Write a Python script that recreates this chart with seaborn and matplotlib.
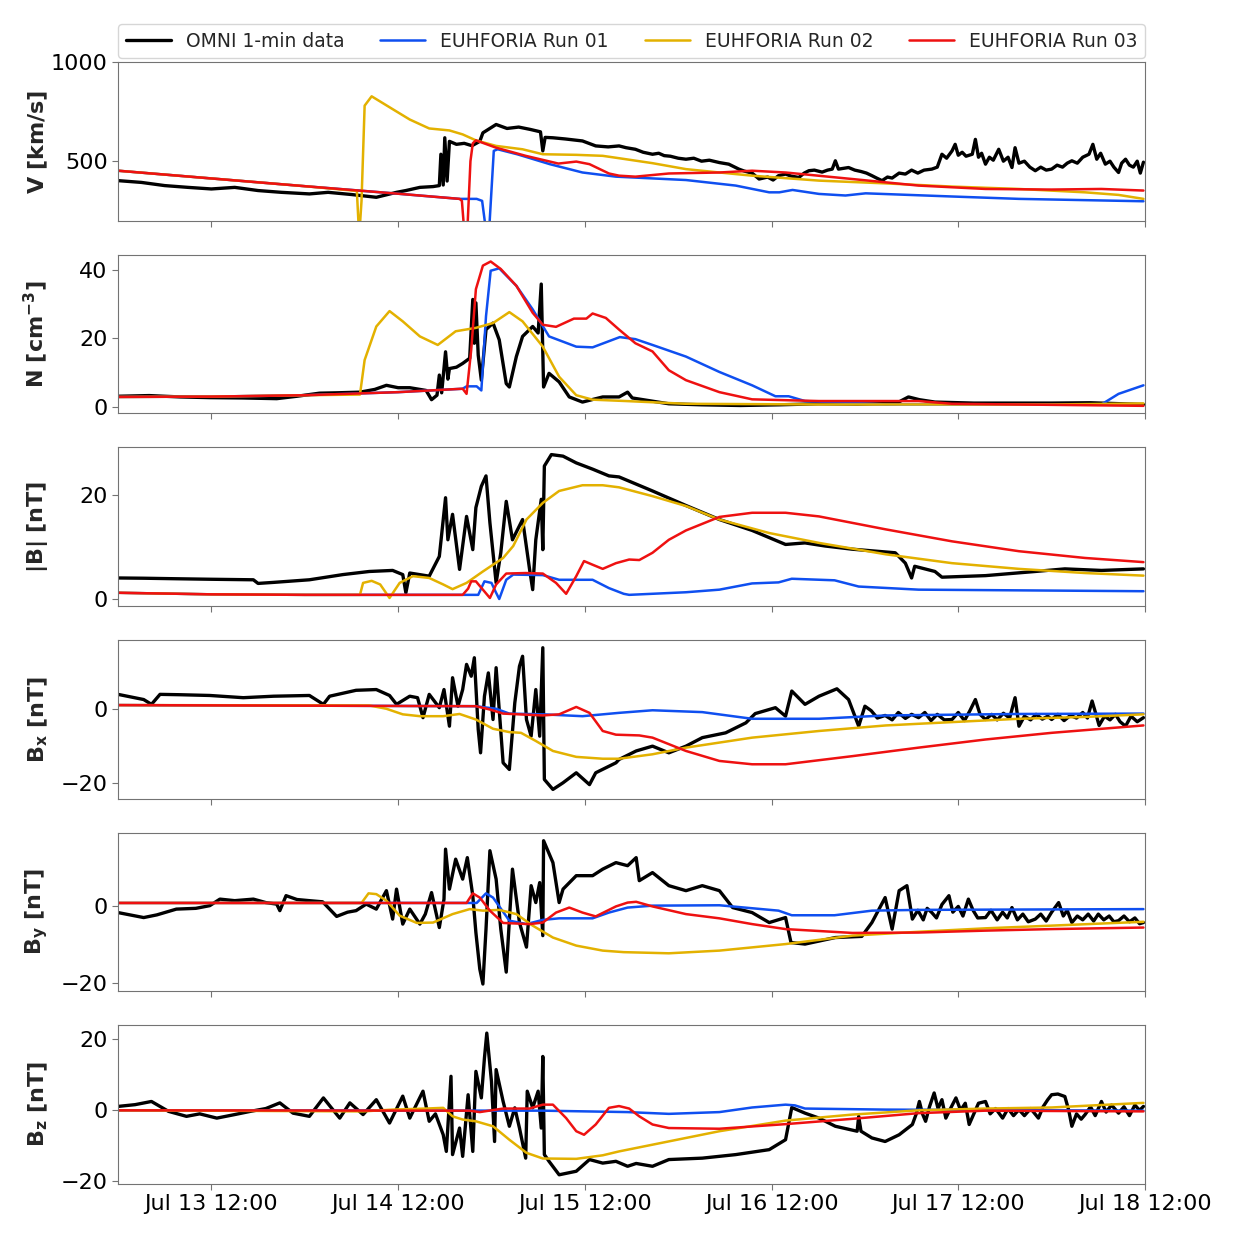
import matplotlib
matplotlib.use('Agg')
import matplotlib.pyplot as plt
import matplotlib.dates as mdates
import seaborn as sns
import pandas as pd

# hours since 2012-07-13 00:00
T0 = pd.Timestamp('2012-07-13 00:00')

# ---- V [km/s] ----
v_omni = [(0, 402), (3, 393), (6, 377), (9, 368), (12, 360), (15, 368), (18, 352), (21, 343),
          (24.6, 335), (27, 343), (30, 332), (33.2, 318), (35.8, 343), (37, 352), (38.8, 368),
          (40.5, 372), (41.3, 377), (41.5, 535), (41.8, 380), (42.0, 618), (42.3, 400), (42.6, 600),
          (43.5, 585), (44.5, 590), (45.5, 578), (46.5, 600), (46.9, 643), (48.6, 685), (50, 665),
          (51.5, 672), (53, 660), (54.3, 648), (54.6, 552), (54.9, 620), (55.9, 618), (57.5, 612),
          (59.7, 602), (61.4, 577), (63, 572), (64.4, 577), (65.3, 568), (66.5, 560), (67.5, 545),
          (68.7, 535), (69.5, 540), (70.2, 528), (71, 525), (72, 515), (73, 510), (74, 515), (75, 500),
          (76, 505), (77.3, 493), (78.5, 485), (79.8, 460), (80.5, 450), (81.5, 440), (82.4, 410),
          (83.5, 420), (84.2, 405), (84.9, 427), (85.8, 435), (86.5, 425), (87.5, 418), (88.2, 440),
          (88.8, 452), (89.5, 455), (90.5, 445), (91.2, 455), (91.8, 460), (92.2, 502), (92.6, 460),
          (93.9, 468), (94.7, 455), (95.5, 448), (96.2, 440), (96.9, 427), (97.5, 415), (98.2, 402),
          (98.9, 420), (99.5, 415), (100.4, 440), (101.2, 435), (102.0, 455), (102.8, 440),
          (103.6, 455), (104.6, 460), (105.3, 470), (105.9, 535), (106.5, 515), (107.2, 552),
          (107.6, 585), (108.0, 530), (108.5, 545), (109.0, 525), (109.8, 535), (110.2, 610),
          (110.6, 520), (111.0, 540), (111.5, 485), (112.0, 520), (112.5, 505), (113.2, 560),
          (113.8, 500), (114.4, 520), (114.9, 468), (115.3, 568), (115.8, 490), (116.5, 500),
          (117.2, 470), (117.9, 452), (118.6, 470), (119.3, 455), (120.0, 460), (120.7, 480),
          (121.4, 470), (122.0, 490), (122.6, 502), (123.3, 490), (124.0, 520), (124.8, 535),
          (125.3, 585), (125.8, 510), (126.3, 540), (126.9, 485), (127.5, 500), (128.0, 470),
          (128.6, 443), (129.0, 490), (129.5, 510), (130.0, 480), (130.5, 470), (131.0, 500),
          (131.4, 440), (131.8, 495)]
v_run01 = [(0, 452), (12, 413), (24, 374), (36, 336), (43.9, 310), (46.1, 310), (46.8, 300),
           (47.3, 150), (47.7, 150), (48.3, 552), (48.8, 560), (51.3, 535), (55.5, 485), (59.7, 443),
           (64.0, 422), (73.0, 405), (79.4, 377), (83.7, 343), (85.0, 343), (86.7, 355), (90.1, 335),
           (93.5, 327), (96.1, 338), (107.2, 322), (115.8, 310), (131.8, 298)]
v_run02 = [(0, 452), (12, 413), (24, 374), (30.7, 350), (31.0, 120), (31.3, 300), (31.7, 780),
           (32.6, 827), (35.4, 760), (37.5, 710), (40.0, 665), (42.6, 655), (44.3, 635), (46.0, 605),
           (48.6, 577), (52.0, 560), (54.6, 535), (58.9, 532), (62.3, 527), (64.4, 515), (68.7, 490),
           (73.0, 460), (77.3, 443), (81.5, 427), (90.1, 402), (98.7, 388), (107.2, 372),
           (115.8, 360), (124.3, 343), (128.6, 330), (131.8, 310)]
v_run03 = [(0, 452), (12, 413), (24, 374), (36, 336), (43.9, 310), (44.2, 300), (44.5, 150),
           (44.9, 150), (45.3, 500), (45.6, 590), (46.0, 605), (48.6, 568), (52.4, 527), (56.6, 488),
           (58.9, 498), (60.6, 485), (63.1, 438), (64.4, 427), (66.5, 422), (70.8, 438), (77.3, 443),
           (81.5, 452), (85.8, 443), (94.4, 410), (102.9, 377), (111.5, 360), (120.0, 357),
           (126.4, 360), (131.8, 352)]

# ---- N [cm^-3] ----
n_omni = [(0, 3.0), (4, 3.2), (8, 2.8), (11.8, 2.6), (16, 2.5), (20.4, 2.3), (23, 3.0), (25.9, 3.9),
          (28, 4.0), (31.1, 4.2), (33, 5.0), (34.5, 6.2), (36, 5.5), (37.5, 5.5), (39.6, 4.7),
          (40.3, 2.0), (41.0, 3.3), (41.3, 9.2), (41.6, 4.0), (42.1, 16), (42.4, 8), (42.6, 11.1),
          (43.5, 11.5), (44.3, 12.6), (45.2, 14.1), (45.6, 31.3), (45.8, 18.5), (46.0, 30.3),
          (46.3, 15), (46.7, 7.7), (47.3, 22.5), (48.2, 24.4), (49.0, 19.5), (49.9, 6.7), (50.3, 5.7),
          (51.2, 14.6), (52.0, 20.5), (53.3, 23.4), (54.0, 21.5), (54.4, 35.8), (54.7, 5.7),
          (55.4, 9.7), (56.7, 7.2), (58.0, 2.8), (59.7, 1.3), (62.3, 2.8), (64.4, 2.8), (65.5, 4.2),
          (66.1, 2.5), (70.8, 0.8), (75, 0.5), (80, 0.3), (85, 0.5), (90, 0.8), (95, 0.7), (100, 0.9),
          (101.6, 2.8), (103, 2.0), (105, 1.3), (110, 1.0), (115, 1.0), (120, 1.0), (125, 1.1),
          (131.8, 0.6)]
n_run01 = [(0, 2.8), (12, 2.9), (24, 3.3), (36, 4.2), (44.3, 5.2), (44.8, 5.9), (46.1, 5.9),
           (46.7, 4.7), (47.3, 26.4), (47.9, 39.7), (49.0, 40.4), (51.2, 35.3), (53.3, 28.4),
           (55.4, 20.5), (58.9, 17.5), (61.0, 17.3), (64.5, 20.3), (66.5, 19.7), (68.7, 18.0),
           (73.0, 14.6), (77.3, 10.1), (81.5, 6.2), (84.5, 3.0), (86.2, 3.0), (88.3, 1.6), (98.7, 0.6),
           (126.4, 0.6), (128.6, 3.7), (131.8, 6.2)]
n_run02 = [(0, 2.8), (12, 2.9), (24, 3.3), (31.1, 3.5), (31.7, 13.6), (33.2, 23.4), (34.9, 27.9),
           (36.6, 24.9), (38.8, 20.5), (41.1, 18.0), (43.4, 22.0), (46.0, 23.0), (48.2, 24.4),
           (50.3, 27.6), (52.0, 24.9), (54.6, 17.5), (56.7, 8.7), (58.9, 3.3), (61.0, 2.0), (65.3, 1.6),
           (73.0, 0.8), (90, 0.6), (120, 0.6), (131.8, 0.9)]
n_run03 = [(0, 2.8), (12, 2.9), (24, 3.3), (36, 4.2), (44.3, 5.2), (44.8, 3.7), (45.4, 16.6),
           (46.0, 34.3), (46.9, 41.2), (47.9, 42.4), (49.2, 40.2), (51.2, 35.3), (53.3, 27.4),
           (54.6, 23.9), (56.3, 23.3), (58.6, 25.7), (60.2, 25.7), (61.0, 27.2), (62.7, 25.9),
           (64.4, 22.5), (66.5, 18.5), (68.7, 16.1), (70.8, 10.6), (73.0, 7.7), (77.3, 4.2), (81.5, 2.1),
           (90.1, 1.6), (102.9, 1.6), (107.2, 0.8), (131.8, 0.2)]

# ---- |B| [nT] ----
b_omni = [(0, 4.05), (3.3, 4.0), (7.5, 3.9), (12, 3.8), (17.4, 3.7), (18.0, 3.0), (20, 3.2),
          (24.6, 3.7), (28.9, 4.7), (32.3, 5.3), (35.3, 5.5), (36.6, 4.7), (37.0, 1.2), (37.5, 5.0),
          (40.0, 4.4), (41.3, 8.2), (42.1, 19.5), (42.4, 11.4), (43.0, 16.3), (43.9, 5.7), (44.8, 15.9),
          (45.6, 9.5), (46.0, 17.6), (46.7, 21.7), (47.3, 23.7), (47.8, 14.7), (48.6, 3.1), (49.2, 8.9),
          (49.9, 18.8), (50.7, 11.4), (52.0, 15.3), (52.9, 5.7), (53.3, 1.8), (53.7, 11.4), (54.4, 19.2),
          (54.6, 9.5), (54.8, 25.6), (55.7, 27.8), (57.2, 27.5), (58.9, 26.2), (61.0, 25.0), (63.1, 23.7),
          (64.4, 23.5), (68.7, 20.8), (73.0, 18.0), (77.3, 15.3), (81.5, 13.2), (85.8, 10.5), (88.3, 10.8),
          (90.9, 10.2), (94.3, 9.6), (99.9, 8.9), (101.2, 6.9), (102.0, 4.05), (102.4, 6.3), (105.0, 5.3),
          (105.9, 4.2), (111.5, 4.5), (117.9, 5.3), (121.7, 5.8), (126.4, 5.5), (131.8, 5.8)]
b_run01 = [(0, 1.2), (12, 0.9), (24, 0.8), (36, 0.8), (44.8, 0.8), (46.3, 0.8), (47.1, 3.4), (48.0, 3.1),
           (48.5, 1.5), (49.0, 0.0), (49.9, 3.7), (50.8, 4.7), (54.6, 4.6), (56.7, 3.7), (61.0, 3.7),
           (63.1, 2.1), (65.0, 1.0), (65.7, 0.8), (73.0, 1.3), (77.3, 1.8), (81.5, 3.0), (84.9, 3.2),
           (86.6, 3.9), (92.1, 3.6), (95.2, 2.4), (102.9, 1.8), (131.8, 1.5)]
b_run02 = [(0, 1.2), (12, 0.9), (24, 0.8), (31.1, 0.8), (31.5, 3.1), (32.6, 3.5), (33.7, 2.8),
           (34.9, 0.2), (36.2, 3.1), (37.9, 4.4), (40.0, 4.05), (41.8, 2.8), (43.0, 1.9), (44.8, 3.1),
           (46.9, 5.3), (49.5, 7.9), (50.8, 10.2), (52.5, 15.3), (54.6, 18.5), (56.7, 20.8), (59.7, 21.9),
           (62.3, 21.9), (64.4, 21.5), (68.7, 19.8), (73.0, 17.9), (77.3, 15.3), (83.7, 12.7), (90.1, 10.8),
           (98.7, 8.6), (107.2, 6.9), (115.8, 5.8), (124.3, 5.0), (131.8, 4.5)]
b_run03 = [(0, 1.2), (12, 0.9), (24, 0.8), (36, 0.8), (44.3, 0.8), (45.0, 2.0), (45.4, 3.4), (46.0, 3.4),
           (46.9, 1.8), (47.8, 0.2), (48.6, 2.8), (49.9, 4.9), (52.4, 5.0), (54.6, 4.9), (56.3, 3.1),
           (57.6, 1.0), (58.9, 4.4), (59.9, 7.3), (61.0, 6.6), (62.3, 5.8), (64.0, 6.9), (65.7, 7.6),
           (67.0, 7.5), (68.7, 8.9), (70.8, 11.4), (73.0, 13.2), (77.3, 15.8), (81.5, 16.6), (85.8, 16.6),
           (90.1, 15.9), (98.7, 13.4), (107.2, 11.1), (115.8, 9.2), (124.3, 7.9), (131.8, 7.1)]

# ---- Bx [nT] ----
bx_omni = [(0, 3.9), (3.3, 2.5), (4.3, 1.2), (5.4, 3.9), (8, 3.8), (11.8, 3.6), (16.1, 3.0), (20, 3.4),
           (24.6, 3.6), (26.4, 1.2), (27.2, 3.4), (30.6, 5.0), (33.2, 5.2), (34.9, 3.6), (35.8, 1.2),
           (37.5, 3.4), (38.5, 3.0), (39.2, -2.4), (40.0, 3.9), (41.3, 0.3), (41.9, 5.2), (42.6, -4.7),
           (43.0, 8.4), (43.7, 0.7), (44.3, 5.2), (44.8, 12.0), (45.4, 8.8), (45.8, 13.8), (46.3, -5.6),
           (46.6, -11.9), (47.1, 3.4), (47.6, 9.7), (48.2, -2.9), (48.6, 11.1), (49.5, -14.6),
           (50.3, -16.4), (51.0, 1.6), (51.6, 11.5), (52.0, 14.2), (52.5, -2.9), (53.1, -7.4),
           (53.7, 5.2), (54.2, -7.4), (54.6, 16.5), (54.8, -19.1), (55.9, -21.8), (57.2, -20.0),
           (58.9, -17.3), (60.6, -20.5), (61.4, -17.3), (64.0, -14.6), (64.4, -13.7), (66.6, -11.4),
           (68.7, -10.1), (70.8, -11.9), (73.0, -10.1), (75.1, -7.8), (78.1, -6.5), (80.7, -3.8),
           (81.9, -1.3), (84.5, 0.3), (85.8, -2.0), (86.6, 4.8), (88.3, 1.2), (90.1, 3.4), (92.4, 5.4),
           (93.9, 2.5), (95.2, -4.7), (96.0, 0.7), (96.8, -0.5), (97.6, -2.5), (98.6, -1.8), (99.5, -3.0),
           (100.3, -1.0), (101.2, -2.6), (102.0, -1.5), (102.9, -2.4), (103.7, -1.0), (104.5, -3.2),
           (105.3, -1.5), (106.2, -3.0), (107.2, -2.9), (108.0, -1.0), (108.8, -3.2), (109.5, -0.5),
           (110.2, 2.5), (110.8, -1.5), (111.5, -2.9), (112.3, -1.5), (113.0, -3.0), (113.8, -1.2),
           (114.6, -2.5), (115.3, 3.0), (115.8, -4.7), (116.5, -2.0), (117.3, -3.0), (118.0, -1.5),
           (118.8, -2.8), (119.5, -2.0), (120.0, -2.9), (120.8, -1.5), (121.6, -3.2), (122.4, -1.8),
           (123.2, -2.5), (124.0, -1.0), (124.6, -2.5), (125.2, 2.1), (125.7, -1.5), (126.1, -4.5),
           (126.8, -2.0), (127.5, -3.0), (128.2, -1.5), (128.8, -3.5), (129.5, -4.7), (130.2, -2.0),
           (131.0, -3.5), (131.8, -2.4)]
bx_run01 = [(0, 1.0), (46.0, 0.7), (48.6, 0.0), (50.3, -1.3), (54.6, -1.5), (59.7, -2.0), (64.4, -1.1),
            (68.7, -0.4), (75.1, -0.9), (81.5, -2.7), (90.1, -2.7), (98.7, -1.8), (115.8, -1.4),
            (131.8, -1.3)]
bx_run02 = [(0, 1.0), (32.3, 0.9), (34.5, 0.0), (36.6, -1.5), (38.8, -2.0), (41.8, -2.0), (43.9, -1.4),
            (46.0, -2.9), (48.2, -5.4), (50.3, -6.3), (51.8, -6.5), (53.7, -8.7), (55.9, -11.4),
            (58.9, -13.0), (62.3, -13.5), (64.4, -13.5), (68.7, -12.3), (73.0, -10.5), (81.5, -7.8),
            (90.1, -6.0), (98.7, -4.5), (107.2, -3.6), (115.8, -2.7), (124.3, -2.2), (131.8, -1.5)]
bx_run03 = [(0, 1.0), (46.0, 0.7), (47.8, -0.2), (49.5, -1.3), (54.6, -1.8), (56.7, -1.5), (58.9, 0.5),
            (60.6, -1.1), (62.3, -6.0), (64.0, -7.0), (67.0, -7.2), (68.7, -7.8), (73.0, -11.4),
            (77.3, -14.1), (81.5, -15.0), (85.8, -15.0), (94.4, -12.8), (102.9, -10.5), (111.5, -8.3),
            (120.0, -6.5), (131.8, -4.5)]

# ---- By [nT] ----
by_omni = [(0, -1.6), (3.3, -2.9), (5, -2.2), (7.5, -0.7), (10, -0.5), (11.8, 0.2), (13.1, 1.9),
           (15, 1.5), (17.4, 1.9), (19, 1.0), (20.4, 0.6), (20.8, -1.1), (21.6, 2.8), (23, 1.8),
           (24.6, 1.5), (26.3, 1.2), (27.2, -0.7), (28.1, -2.6), (29.5, -1.5), (30.6, -1.1), (31.9, 0.6),
           (33.2, -0.7), (34.5, 4.1), (35.3, -3.3), (35.8, 4.5), (36.6, -4.6), (37.5, -0.7), (38.8, -4.6),
           (39.5, -2.0), (40.3, 3.6), (41.3, -5.5), (41.9, 1.9), (42.1, 14.9), (42.6, 4.5), (43.4, 12.3),
           (44.3, 7.1), (44.9, 12.7), (45.6, 2.8), (46.0, -6.8), (46.5, -16.3), (46.9, -20.2),
           (47.3, -5.9), (47.8, 14.5), (48.6, 7.1), (49.2, -5.9), (49.9, -17.1), (50.7, 9.7),
           (51.6, -4.2), (52.5, -10.6), (53.1, 5.4), (53.7, 1.0), (54.2, 6.2), (54.6, -7.6), (54.7, 17.1),
           (55.9, 11.4), (56.7, 1.0), (57.2, 4.5), (58.9, 8.0), (61.0, 8.0), (62.3, 9.7), (64.0, 11.4),
           (65.5, 10.6), (66.6, 12.7), (67.0, 6.7), (68.7, 8.8), (70.8, 5.4), (73.0, 4.1), (75.1, 5.4),
           (77.3, 4.1), (79.0, -0.3), (81.5, -1.6), (83.7, -4.2), (85.8, -2.9), (86.5, -9.4),
           (88.3, -9.8), (92.2, -8.1), (95.6, -7.8), (96.9, -4.2), (98.6, 2.3), (99.5, -5.9),
           (100.4, 4.1), (101.4, 5.4), (102.1, -3.3), (102.8, -1.0), (103.5, -3.5), (104.0, -0.5),
           (104.6, -1.6), (105.2, -3.0), (105.9, 0.5), (106.8, 2.8), (107.3, -1.5), (108.0, 0.0),
           (108.6, -2.5), (109.3, 1.9), (109.9, -1.0), (110.5, -3.0), (111.5, -2.9), (112.2, -1.0),
           (113.0, -3.5), (113.7, -1.5), (114.3, -3.0), (114.9, -0.3), (115.6, -3.5), (116.3, -2.0),
           (117.0, -4.0), (117.9, -3.3), (118.6, -2.0), (119.3, -3.8), (120.0, -1.5), (120.9, 1.0),
           (121.5, -2.5), (122.0, -1.0), (122.6, -4.2), (123.3, -2.5), (124.0, -3.5), (124.7, -2.0),
           (125.4, -3.8), (126.0, -2.0), (126.7, -3.5), (127.4, -2.5), (128.0, -4.0), (128.6, -3.7),
           (129.3, -2.5), (130.0, -4.0), (130.7, -3.0), (131.3, -4.5), (131.8, -4.2)]
by_run01 = [(0, 0.9), (46.1, 0.9), (47.3, 3.4), (48.2, 2.3), (50.3, -3.7), (52.5, -4.6), (54.6, -3.5),
            (56.7, -3.1), (61.0, -3.1), (63.1, -1.6), (65.5, -0.3), (68.7, 0.2), (77.3, 0.3), (84.9, -1.1),
            (86.6, -2.3), (92.1, -2.3), (96.9, -1.1), (102.9, -0.9), (131.8, -0.7)]
by_run02 = [(0, 0.9), (31.3, 0.9), (32.2, 3.4), (33.2, 3.2), (34.5, 1.5), (36.2, -2.4), (38.4, -4.3),
            (40.5, -4.2), (43.0, -2.0), (45.2, -0.7), (46.9, -1.1), (49.0, -0.9), (51.2, -2.0),
            (53.3, -5.0), (55.9, -8.1), (58.9, -10.2), (62.3, -11.5), (65.0, -11.9), (70.8, -12.2),
            (77.3, -11.5), (85.8, -9.8), (94.4, -7.6), (102.9, -6.6), (111.5, -5.7), (120.0, -5.0),
            (131.8, -4.0)]
by_run03 = [(0, 0.9), (44.8, 0.9), (45.6, 3.4), (46.5, 2.3), (47.8, -1.1), (49.5, -4.3), (52.9, -4.6),
            (54.6, -4.2), (56.3, -1.6), (58.0, -0.3), (59.7, -1.6), (61.4, -2.6), (64.0, 0.0), (65.5, 1.0),
            (66.6, 1.2), (68.7, 0.0), (73.0, -2.0), (77.3, -3.1), (81.5, -4.6), (85.8, -5.9), (94.4, -6.9),
            (102.9, -6.8), (111.5, -6.3), (120.0, -5.9), (131.8, -5.5)]

# ---- Bz [nT] ----
bz_omni = [(0, 1.1), (2.2, 1.6), (4.3, 2.5), (6.5, -0.3), (8.8, -1.7), (10.5, -1.0), (12.7, -2.2),
           (15, -1.2), (17.0, -0.3), (19, 0.5), (20.8, 2.1), (22.5, -0.8), (24.6, -1.7), (26.4, 3.5),
           (27.5, 0.5), (28.5, -2.2), (29.8, 2.1), (31.5, -1.2), (33.2, 3.0), (34.9, -3.6), (36.6, 4.0),
           (37.5, -2.2), (39.2, 5.4), (40.0, -3.1), (40.8, -1.0), (41.8, -6.9), (42.2, -11.6),
           (42.8, 9.6), (43.0, -12.5), (43.9, -5.0), (44.3, -13.0), (45.0, 4.4), (45.6, -11.6),
           (46.0, 11.0), (46.7, 3.5), (47.1, 14.8), (47.4, 21.8), (48.0, 8.2), (48.4, -8.8), (48.6, 11.5),
           (49.5, 2.5), (50.3, -4.5), (51.0, 0.7), (51.6, -5.0), (52.4, -13.5), (52.6, 5.4), (53.3, 0.7),
           (54.0, 5.4), (54.4, -5.0), (54.6, 15.2), (54.8, -12.5), (55.4, -14.4), (56.7, -18.2),
           (58.9, -17.2), (60.6, -13.9), (62.3, -14.9), (64.0, -14.4), (65.5, -15.8), (66.6, -15.0),
           (68.7, -15.8), (70.8, -13.9), (75.1, -13.5), (79.4, -12.5), (83.7, -11.1), (85.8, -8.3),
           (86.6, 0.8), (88.3, -0.8), (90.1, -2.2), (92.2, -4.5), (95.0, -5.9), (95.2, -1.7),
           (95.5, -5.9), (96.9, -7.8), (98.6, -8.8), (100.4, -6.9), (102.1, -4.0), (102.6, -1.0),
           (103.0, 2.5), (103.4, -1.0), (103.8, -3.1), (104.3, 1.0), (104.9, 4.9), (105.4, 0.5),
           (105.9, 3.0), (106.4, -2.2), (107.0, 0.5), (107.7, 3.5), (108.3, 0.0), (108.9, 2.0),
           (109.4, -4.0), (110.0, -1.0), (110.6, 2.0), (111.5, 2.5), (112.1, -1.0), (112.8, 0.5),
           (113.7, -2.2), (114.4, 0.5), (115.1, -1.5), (115.8, 0.2), (116.5, -1.5), (117.3, 0.5),
           (118.3, -2.2), (118.9, 1.0), (119.5, 3.0), (120.0, 4.4), (120.8, 4.6), (121.7, 3.9),
           (122.2, 0.0), (122.6, -4.5), (123.2, -1.0), (123.8, -2.5), (124.3, -1.2), (125.0, 1.0),
           (125.6, -1.5), (126.4, 2.5), (127.0, -0.5), (127.7, 1.5), (128.6, -0.8), (129.3, 1.0),
           (130.0, -1.5), (130.7, 1.5), (131.3, 0.0), (131.8, 1.1)]
bz_run01 = [(0, 0.0), (54.6, -0.1), (65.5, -0.5), (70.8, -1.0), (77.3, -0.5), (81.5, 0.8), (85.8, 1.6),
            (87.0, 1.4), (88.3, 0.5), (98.7, 0.2), (131.8, -0.1)]
bz_run02 = [(0, 0.0), (31.5, -0.3), (35.3, 0.2), (39.6, 0.5), (41.8, 0.7), (43.0, -1.7), (44.3, -2.6),
            (46.0, -3.1), (48.2, -4.5), (50.3, -8.3), (52.5, -12.0), (54.6, -13.6), (58.9, -13.7),
            (62.3, -12.7), (64.4, -11.6), (68.7, -9.7), (73.0, -7.8), (77.3, -5.9), (85.8, -2.9),
            (94.4, -1.2), (102.9, 0.0), (111.5, 0.5), (120.0, 0.8), (131.8, 2.1)]
bz_run03 = [(0, 0.0), (45.2, -0.1), (46.5, -0.5), (49.5, 0.5), (52.9, 0.5), (54.6, 1.6), (55.9, 1.6),
            (57.6, -2.2), (58.9, -5.9), (59.9, -6.9), (61.4, -4.0), (63.1, 0.7), (64.4, 1.2), (65.7, 0.5),
            (67.0, -1.7), (68.7, -4.0), (70.8, -5.0), (77.3, -5.2), (85.8, -3.9), (94.4, -2.4),
            (102.9, -0.8), (111.5, -0.1), (131.8, -0.3)]

names = ['OMNI 1-min data', 'EUHFORIA Run 01', 'EUHFORIA Run 02', 'EUHFORIA Run 03']
colors = ['black', '#0f4ff0', '#e3b100', '#ee1111']
widths = [2.4, 1.8, 1.8, 1.8]

panels = [
    (r'$\mathbf{V\ [km/s]}$', (200, 1000), [500, 1000], [v_omni, v_run01, v_run02, v_run03]),
    (r'$\mathbf{N\ [cm^{-3}]}$', (-2.0, 44.4), [0, 20, 40], [n_omni, n_run01, n_run02, n_run03]),
    (r'$\mathbf{|B|\ [nT]}$', (-1.35, 29.2), [0, 20], [b_omni, b_run01, b_run02, b_run03]),
    (r'$\mathbf{B_x\ [nT]}$', (-24.3, 18.6), [-20, 0], [bx_omni, bx_run01, bx_run02, bx_run03]),
    (r'$\mathbf{B_y\ [nT]}$', (-22.1, 19.2), [-20, 0], [by_omni, by_run01, by_run02, by_run03]),
    (r'$\mathbf{B_z\ [nT]}$', (-20.8, 24.0), [-20, 0, 20], [bz_omni, bz_run01, bz_run02, bz_run03]),
]


def to_frame(pairs):
    df = pd.DataFrame(pairs, columns=['hours', 'value'])
    df['time'] = T0 + pd.to_timedelta(df['hours'], unit='h')
    return df


sns.set_style('ticks', {'axes.edgecolor': '0.45', 'xtick.color': '0.45', 'ytick.color': '0.45'})
plt.rcParams['xtick.labelcolor'] = 'black'
plt.rcParams['ytick.labelcolor'] = 'black'
plt.rcParams['mathtext.fontset'] = 'dejavusans'

fig, axes = plt.subplots(6, 1, figsize=(12.39, 12.39), dpi=100, sharex=True)
fig.subplots_adjust(left=118 / 1239, right=1145 / 1239, top=1 - 62 / 1239,
                    bottom=1 - 1184 / 1239, hspace=0.214)

for i, (ax, (ylabel, ylim, yticks, series)) in enumerate(zip(axes, panels)):
    for pairs, name, c, lw in zip(series, names, colors, widths):
        kw = {'label': name} if i == 0 else {}
        sns.lineplot(data=to_frame(pairs), x='time', y='value', ax=ax, color=c, lw=lw,
                     estimator=None, sort=False, legend=False, **kw)
    ax.set_ylim(*ylim)
    ax.set_yticks(yticks)
    ax.set_ylabel(ylabel, fontsize=16)
    ax.yaxis.set_label_coords(-0.066, 0.5)
    ax.set_xlabel('')
    ax.tick_params(labelsize=16, length=4)

axes[-1].set_xlim(T0, T0 + pd.Timedelta(hours=132))
axes[-1].xaxis.set_major_locator(mdates.HourLocator(byhour=[12]))
axes[-1].xaxis.set_major_formatter(mdates.DateFormatter('%b %d %H:%M'))

axes[0].legend(loc='lower left', bbox_to_anchor=(0, 1.025, 1, 0.2), mode='expand', ncol=4,
               fontsize=13.5, handlelength=2.4, borderaxespad=0, frameon=True)

plt.savefig('out.png', dpi=100)
